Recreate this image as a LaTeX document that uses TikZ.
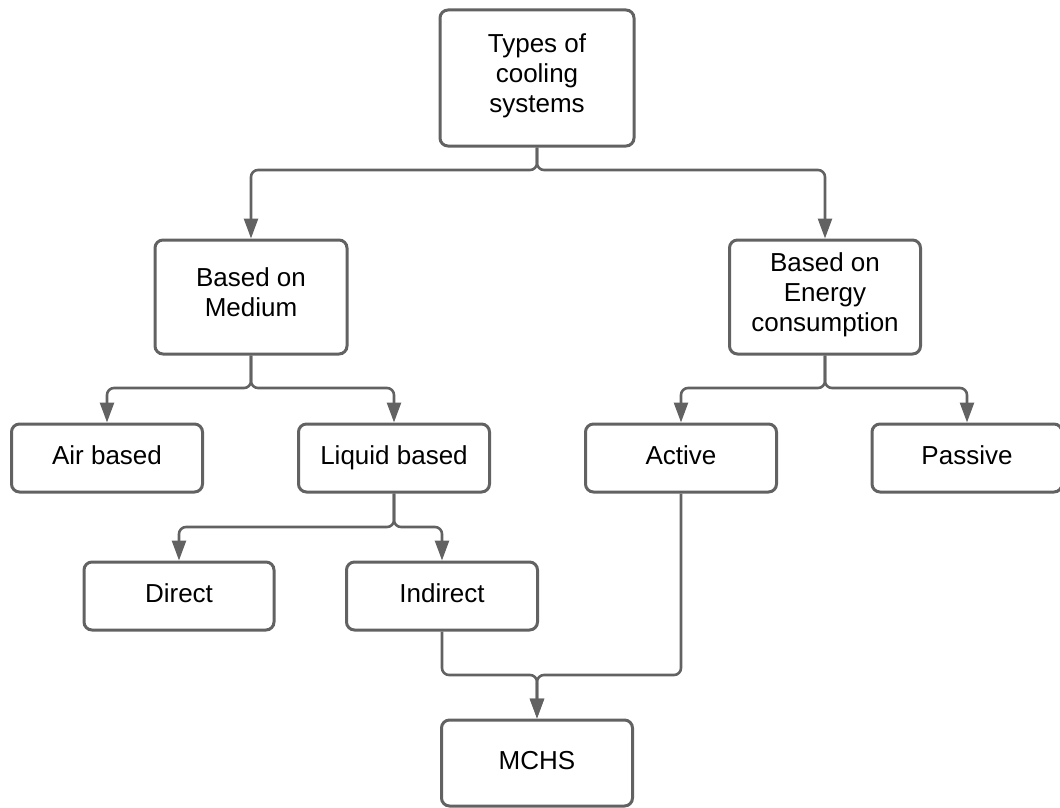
\documentclass[tikz,border=0pt]{standalone}
\usepackage{fontspec}
\setmainfont{Liberation Sans}
\usetikzlibrary{arrows.meta}
\definecolor{linegray}{HTML}{626262}
\begin{document}
\begin{tikzpicture}[x=1pt,y=-1pt,
  box/.style={draw=linegray, line width=3pt, rounded corners=8pt, fill=white,
    align=center, inner sep=0pt, font=\fontsize{26}{30}\selectfont,
    execute at begin node=\strut, execute at end node=\strut},
  conn/.style={draw=linegray, line width=2.6pt, rounded corners=7pt},
  arr/.style={conn, -{Triangle[width=14pt,length=20pt]}}]
\useasboundingbox (0,0) rectangle (1060,808);
\node[box, minimum width=194pt, minimum height=136pt] (top) at (537,78) {Types of\\cooling\\systems};
\node[box, minimum width=192pt, minimum height=114pt] (medium) at (251,297) {Based on\\Medium};
\node[box, minimum width=191pt, minimum height=114pt] (energy) at (825,297) {Based on\\Energy\\consumption};
\node[box, minimum width=191pt, minimum height=68pt] (air) at (107,458) {Air based};
\node[box, minimum width=191pt, minimum height=68pt] (liquid) at (394,458) {Liquid based};
\node[box, minimum width=191pt, minimum height=68pt] (active) at (681,458) {Active};
\node[box, minimum width=190pt, minimum height=68pt] (passive) at (967,458) {Passive};
\node[box, minimum width=190pt, minimum height=68pt] (direct) at (179,596) {Direct};
\node[box, minimum width=191pt, minimum height=68pt] (indirect) at (442,596) {Indirect};
\node[box, minimum width=191pt, minimum height=86pt] (mchs) at (537,763) {MCHS};
\coordinate (j1) at (537,170);
\coordinate (j2) at (251,388);
\coordinate (j3) at (825,388);
\coordinate (j4) at (394,527);
\coordinate (j5) at (537,675);
\draw[arr] (top.south) -- (j1) -| (medium.north);
\draw[arr] (top.south) -- (j1) -| (energy.north);
\draw[arr] (medium.south) -- (j2) -| (air.north);
\draw[arr] (medium.south) -- (j2) -| (liquid.north);
\draw[arr] (energy.south) -- (j3) -| (active.north);
\draw[arr] (energy.south) -- (j3) -| (passive.north);
\draw[arr] (liquid.south) -- (j4) -| (direct.north);
\draw[arr] (liquid.south) -- (j4) -| (indirect.north);
\draw[arr] (indirect.south) |- (j5) -- (mchs.north);
\draw[arr] (active.south) |- (j5) -- (mchs.north);
\end{tikzpicture}
\end{document}
